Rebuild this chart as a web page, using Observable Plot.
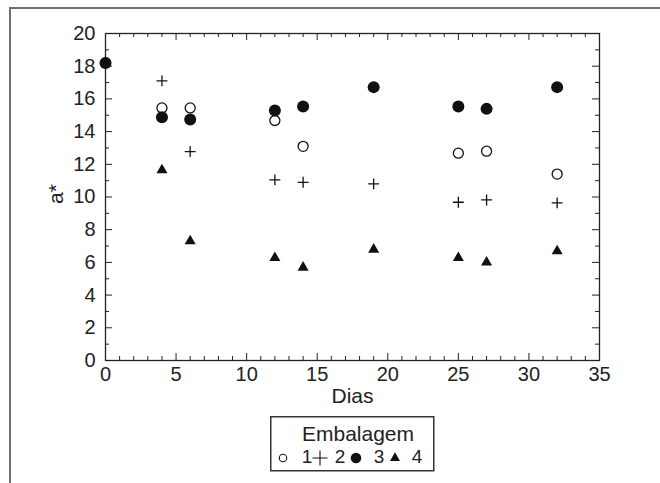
<!DOCTYPE html>
<html>
<head>
<meta charset="utf-8">
<script src="https://cdn.jsdelivr.net/npm/d3@7"></script>
<script src="https://cdn.jsdelivr.net/npm/@observablehq/plot@0.6"></script>
<style>
  html, body { margin: 0; padding: 0; background: #fff; }
  #wrap { position: relative; width: 660px; height: 483px; overflow: hidden; font-family: "Liberation Sans", Arial, sans-serif; }
  #outer { position: absolute; left: 9px; top: 7px; width: 700px; height: 600px; border-left: 2px solid #6f6f6f; border-top: 2px solid #6f6f6f; }
  #chart { position: absolute; left: 0; top: 0; }
  #legend { position: absolute; left: 270px; top: 416px; }
</style>
</head>
<body>
<div id="wrap"><div id="outer"></div><div id="chart"></div><div id="legend"></div></div>
<script>
const dias = [0, 4, 6, 12, 14, 19, 25, 27, 32];
const emb1 = [18.2, 15.45, 15.45, 14.68, 13.1, null, 12.68, 12.8, 11.4];
const emb2 = [null, 17.1, 12.78, 11.05, 10.9, 10.8, 9.68, 9.82, 9.64];
const emb3 = [18.2, 14.88, 14.74, 15.29, 15.53, 16.72, 15.53, 15.39, 16.72];
const emb4 = [null, 11.65, 7.3, 6.28, 5.69, 6.79, 6.28, 6.0, 6.69];
const seriesNames = ["1", "2", "3", "4"];
const xTicks = [0, 5, 10, 15, 20, 25, 30, 35];
const yTicks = [0, 2, 4, 6, 8, 10, 12, 14, 16, 18, 20];
const xMinor = d3.range(0, 36, 1);
const yMinor = d3.range(0, 21, 1);

function toRows(vals, s) {
  return dias.map((d, i) => ({dia: d, a: vals[i], s})).filter(r => r.a != null);
}
const r1 = toRows(emb1, "1"), r2 = toRows(emb2, "2"), r3 = toRows(emb3, "3"), r4 = toRows(emb4, "4");

const W = 660, H = 483, mt = 33, mb = 123, ml = 105, mr = 61;
const pw = W - ml - mr, ph = H - mt - mb;
const isMajX = d => d % 5 === 0, isMajY = d => d % 2 === 0;

const chart = Plot.plot({
  width: W, height: H,
  marginTop: mt, marginBottom: mb, marginLeft: ml, marginRight: mr,
  style: {fontFamily: '"Liberation Sans", Arial, sans-serif', fontSize: "20px", background: "transparent", color: "#222"},
  x: {domain: [0, 35]},
  y: {domain: [0, 20]},
  marks: [
    Plot.frame({stroke: "#222", strokeWidth: 1.3}),
    Plot.tickX(xMinor.filter(d => !isMajX(d)), {x: d => d, stroke: "#222", insetTop: ph - 4}),
    Plot.tickX(xMinor.filter(isMajX), {x: d => d, stroke: "#222", insetTop: ph - 7}),
    Plot.tickX(xMinor.filter(d => !isMajX(d)), {x: d => d, stroke: "#222", insetBottom: ph - 4}),
    Plot.tickX(xMinor.filter(isMajX), {x: d => d, stroke: "#222", insetBottom: ph - 7}),
    Plot.tickY(yMinor.filter(d => !isMajY(d)), {y: d => d, stroke: "#222", insetRight: pw - 4}),
    Plot.tickY(yMinor.filter(isMajY), {y: d => d, stroke: "#222", insetRight: pw - 7}),
    Plot.tickY(yMinor.filter(d => !isMajY(d)), {y: d => d, stroke: "#222", insetLeft: pw - 4}),
    Plot.tickY(yMinor.filter(isMajY), {y: d => d, stroke: "#222", insetLeft: pw - 7}),
    Plot.axisX({ticks: xTicks, tickSize: 0, tickPadding: 6, fontSize: 20, label: null}),
    Plot.axisY({ticks: yTicks, tickSize: 0, tickPadding: 10, fontSize: 20, label: null}),
    Plot.text(["a*"], {frameAnchor: "left", dx: -49, dy: 7, rotate: -90, fontSize: 21, fill: "#222"}),
    Plot.text(["Dias"], {frameAnchor: "bottom", dy: 42, fontSize: 21, fill: "#222"}),
    Plot.dot(r1, {x: "dia", y: "a", symbol: "circle", r: 5, stroke: "#111", strokeWidth: 1.3, fill: "white"}),
    Plot.dot(r2, {x: "dia", y: "a", symbol: "plus", r: 3.6, stroke: "#111", strokeWidth: 1.3}),
    Plot.dot(r3, {x: "dia", y: "a", symbol: "circle", r: 6, fill: "#111", stroke: "none"}),
    Plot.dot(r4, {x: "dia", y: "a", symbol: "triangle", r: 4.1, fill: "#111", stroke: "none"})
  ]
});
document.getElementById("chart").appendChild(chart);

// legend
const lw = 163, lh = 54;
const svg = d3.select("#legend").append("svg").attr("width", lw + 2).attr("height", lh + 2)
  .style("font-family", '"Liberation Sans", Arial, sans-serif');
svg.append("rect").attr("x", 0.75).attr("y", 0.75).attr("width", lw).attr("height", lh)
  .attr("fill", "white").attr("stroke", "#333").attr("stroke-width", 1.5);
svg.append("text").attr("x", 88).attr("y", 19).attr("text-anchor", "middle")
  .attr("dominant-baseline", "middle").attr("font-size", 21).attr("fill", "#222").text("Embalagem");
const rowY = 42;
const items = [
  {sym: d3.symbolCircle, size: Math.PI * 14, fill: "none", stroke: "#111", sx: 13, tx: 37, label: seriesNames[0]},
  {sym: d3.symbolPlus, size: 75, fill: "none", stroke: "#111", sx: 50, tx: 70, label: seriesNames[1]},
  {sym: d3.symbolCircle, size: Math.PI * 28, fill: "#111", stroke: "none", sx: 86, tx: 109, label: seriesNames[2]},
  {sym: d3.symbolTriangle, size: 43, fill: "#111", stroke: "none", sx: 125, tx: 147, label: seriesNames[3]}
];
for (const it of items) {
  svg.append("path").attr("d", d3.symbol(it.sym, it.size)()).attr("transform", `translate(${it.sx},${rowY})`)
    .attr("fill", it.fill).attr("stroke", it.stroke).attr("stroke-width", 1.1);
  svg.append("text").attr("x", it.tx).attr("y", rowY).attr("text-anchor", "middle")
    .attr("dominant-baseline", "middle").attr("font-size", 19).attr("fill", "#222").text(it.label);
}
</script>
</body>
</html>
